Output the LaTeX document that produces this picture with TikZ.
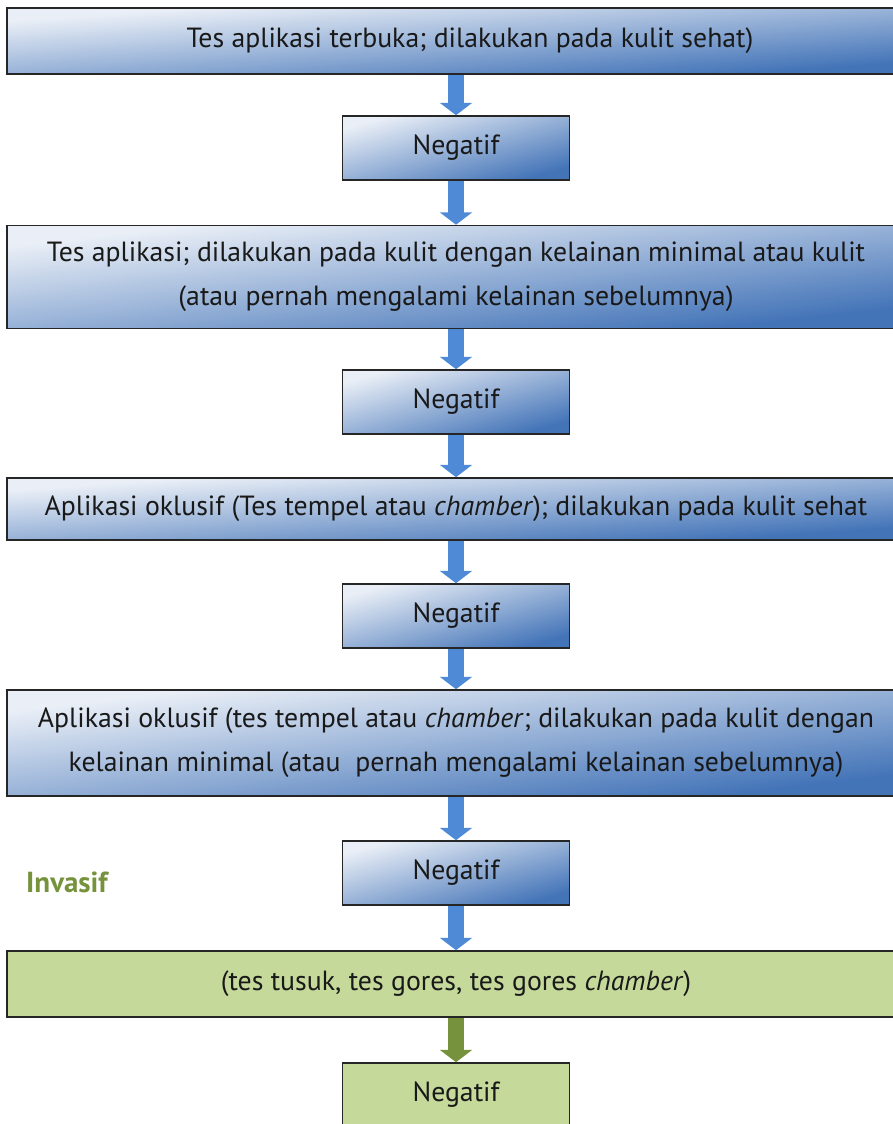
\documentclass[tikz,border=0pt]{standalone}
\usepackage{fontspec}
\setmainfont{PT Sans}
\usetikzlibrary{arrows.meta, positioning, fadings}
\definecolor{boxLight}{HTML}{EAEFF7}
\definecolor{boxDark}{HTML}{4374B8}
\definecolor{arrowBlue}{HTML}{4F8AD6}
\definecolor{greenFill}{HTML}{C5D99B}
\definecolor{greenDark}{HTML}{76923C}
\begin{tikzfadingfrompicture}[name=diagfade]
	\shade[left color=transparent!100, middle color=transparent!65, right color=transparent!0, shading angle=45] (0,0) rectangle (2,2);
\end{tikzfadingfrompicture}

\begin{document}
\begin{tikzpicture}[x=0.02cm, y=-0.02cm,
		boxtext/.style={font=\fontsize{15.8}{25}\selectfont, text=black!90, align=center, inner sep=0pt},
		bluebox/.style={boxtext, draw=black!85, line width=0.9pt, preaction={fill=boxLight}, preaction={fill=boxDark, path fading=diagfade}},
		greenbox/.style={boxtext, draw=black!85, line width=0.9pt, fill=greenFill},
		widebox/.style={minimum width=17.96cm},
		negbox/.style={minimum width=4.54cm, minimum height=1.28cm},
		bluearrow/.style={arrowBlue, line width=9pt, -{Triangle[width=18pt, length=7pt]}},
		greenarrow/.style={greenDark, line width=9pt, -{Triangle[width=18pt, length=7pt]}}]
	\useasboundingbox (0,0) rectangle (892,1124);
	\node[bluebox, minimum width=18.52cm, minimum height=1.32cm] (tesA) at (470,41) {Tes aplikasi terbuka; dilakukan pada kulit sehat)};
	\node[bluebox, negbox] (negA) at (456,148) {Negatif};
	\node[bluebox, widebox, minimum height=2.06cm] (tesB) at (456,277) {Tes aplikasi; dilakukan pada kulit dengan kelainan minimal atau kulit\\(atau pernah mengalami kelainan sebelumnya)};
	\node[bluebox, negbox] (negB) at (456,402) {Negatif};
	\node[bluebox, widebox, minimum height=1.24cm] (tesC) at (456,509) {Aplikasi oklusif (Tes tempel atau \textit{chamber}); dilakukan pada kulit sehat};
	\node[bluebox, negbox] (negC) at (456,616) {Negatif};
	\node[bluebox, widebox, minimum height=2.12cm] (tesD) at (456,743) {Aplikasi oklusif (tes tempel atau \textit{chamber}; dilakukan pada kulit dengan\\kelainan minimal (atau~ pernah mengalami kelainan sebelumnya)};
	\node[bluebox, negbox] (negD) at (456,873) {Negatif};
	\node[greenDark, font=\fontsize{16.5}{25}\selectfont\bfseries] (invasif) at (67,882) {Invasif};
	\node[greenbox, widebox, minimum height=1.32cm] (tesE) at (456,984) {(tes tusuk, tes gores, tes gores \textit{chamber})};
	\node[greenbox, negbox] (negE) at (456,1095) {Negatif};
	\draw[bluearrow] (negA |- tesA.south) -- (negA);
	\draw[bluearrow] (negA) -- (tesB);
	\draw[bluearrow] (tesB) -- (negB);
	\draw[bluearrow] (negB) -- (tesC);
	\draw[bluearrow] (tesC) -- (negC);
	\draw[bluearrow] (negC) -- (tesD);
	\draw[bluearrow] (tesD) -- (negD);
	\draw[bluearrow] (negD) -- (tesE);
	\draw[greenarrow] (tesE) -- (negE);
\end{tikzpicture}
\end{document}
